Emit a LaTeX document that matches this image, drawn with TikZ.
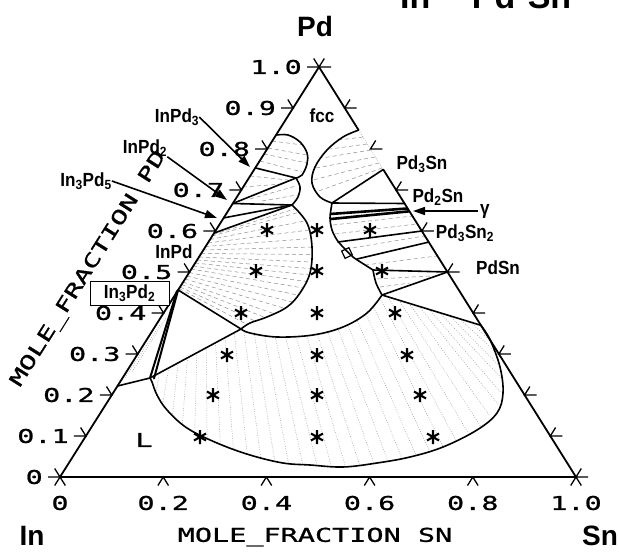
\documentclass[tikz,border=0pt]{standalone}
\usepackage{fontspec}
\setmainfont{Liberation Sans}
\newfontfamily\plotfont[FakeStretch=1.5,FakeBold=1]{DejaVu Sans Mono}
\newfontfamily\lblfont[FakeStretch=0.9]{Liberation Sans Bold}
\usetikzlibrary{arrows.meta,calc}
\begin{document}
\begin{tikzpicture}[x=1pt,y=-1pt,
  triedge/.style={line width=1.8pt},
  bnd/.style={line width=1.6pt,line join=round,line cap=round},
  thk/.style={line width=2.6pt},
  tie/.style={black!45,line width=0.5pt,dash pattern=on 4pt off 3pt},
  dotty/.style={black!40,line width=0.5pt,dash pattern=on 0.8pt off 1.6pt},
  tck/.style={line width=1.3pt},
  lbl/.style={font=\lblfont\fontsize{19}{19}\selectfont,inner sep=0pt},
  axl/.style={font=\plotfont\fontsize{19}{19}\selectfont,inner sep=0pt},
  big/.style={font=\bfseries\fontsize{28}{28}\selectfont,inner sep=0pt},
  arr/.style={-{Triangle[length=12pt,width=8pt]},line width=1.6pt},
  ast/.pic={\draw[line width=2.1pt] (0,-7)--(0,7) (-6,-3.5)--(6,3.5) (-6,3.5)--(6,-3.5);}
]
\useasboundingbox (0,0) rectangle (619,552);

% ---------- key points ----------
\coordinate (In) at (60,477);
\coordinate (Sn) at (576,477);
\coordinate (Pd) at (319,67);
\coordinate (A) at (150,378);
\coordinate (E) at (241,329);
\coordinate (F) at (178.1,290);
\coordinate (D) at (292,205);
\coordinate (K) at (296,178);
\coordinate (G) at (382,295);
\coordinate (I) at (373,270);
\coordinate (J) at (447.5,272);
\coordinate (M) at (332,203);
\coordinate (eL834) at (276.0,135.1);
\coordinate (eL754) at (255.3,167.9);
\coordinate (eL667) at (232.8,203.5);
\coordinate (eL632) at (223.7,217.9);
\coordinate (eL595) at (214.1,233.05);
\coordinate (eL222) at (117.5,386.0);
\coordinate (eR846) at (358.6,130.1);
\coordinate (eR75) at (383.25,169.5);
\coordinate (eR667) at (404.6,203.5);
\coordinate (eR655) at (407.7,208.45);
\coordinate (eR648) at (409.5,211.3);
\coordinate (eR60) at (421.8,231);
\coordinate (eR573) at (428.7,242.1);
\coordinate (eR37) at (480.9,325.3);

% ---------- tie lines (shading) ----------
\foreach \x/\y [count=\n] in {168.7/367.9,187.5/357.8,206.2/347.7,225/337.6,243.9/330.3,264.4/335.2,285.5/336.5,306.7/335.4,327.4/331.2,347.5/324.4,365.8/313.7,379.7/297.8,398.9/300.2,419.2/306.4,439.5/312.6,459.8/318.9}
  {\coordinate (u\n) at (\x,\y);}
\foreach \x/\y [count=\n] in {162.7/403.5,182.4/423.8,207.1/438,233.4/449,260.7/457.6,288.5/463.4,317/465.4,345.5/466.7,373.8/463.4,402/458.5,429.6/451.1,456/440.5,480.9/426.7,499.2/405.8,501.3/377.9,493.9/350.6}
  {\coordinate (l\n) at (\x,\y);}
\coordinate (u0) at (150,378); \coordinate (l0) at (150,378);
\coordinate (u17) at (480.9,325.3); \coordinate (l17) at (480.9,325.3);
\foreach \n in {1,...,16} {\draw[dotty] (u\n) -- (l\n);}
\foreach \n [evaluate=\n as \m using int(\n+1)] in {0,...,16}
  {\draw[dotty] ($(u\n)!.5!(u\m)$) -- ($(l\n)!.5!(l\m)$);}
% InPd lobe
\foreach \x/\y [count=\n] in {212/236,208/243,203/250,199/257,195/263,191/269,187/276,183/282,180/287}
  {\coordinate (s\n) at (\x,\y);}
\foreach \x/\y [count=\n] in {300/212,309/230,312/247,311/262,310/275,303/288,292/302,275/314,255/321}
  {\coordinate (t\n) at (\x,\y);}
\coordinate (s0) at (214.1,233.05); \coordinate (t0) at (292,205);
\coordinate (s10) at (178.1,290); \coordinate (t10) at (241,329);
\foreach \n in {1,...,9} {\draw[tie] (s\n) -- (t\n);}
\foreach \n [evaluate=\n as \m using int(\n+1)] in {0,...,9}
  {\draw[tie] ($(s\n)!.5!(s\m)$) -- ($(t\n)!.5!(t\m)$);}
% fcc + InPd3 lobe
\draw[tie] (272,141)--(303,145) (268,148)--(307,155) (264,154)--(307,163) (260,161)--(302,172);
\draw[tie] (250,176)--(288,180) (243,187)--(282,184);
\draw[tie] (250,199)--(296,186) (262,201)--(297,195);
% fcc + Pd3Sn lobe
\draw[tie] (363,137)--(339,140) (367,144)--(330,149) (371,150)--(322,158)
  (375,157)--(316,168) (379,163)--(313,180) (382,168)--(316,192);
% right side regions
\draw[tie] (333,225)--(413,216) (335,234)--(416,224) (346,249)--(424,236)
  (365,265)--(437,256) (377,279)--(430,276) (380,287)--(410,283);
% In3Pd2 region
\draw[dotty] (125,378)--(160,325) (132,372)--(166,318);

% ---------- triangle ----------
\draw[triedge] (In) -- (Sn) -- (eR75);
\draw[triedge] (eR846) -- (Pd) -- (In);
\draw[dotty] (eR846) -- (eR75);

% ---------- ticks and axis labels ----------
\foreach \i in {0,...,10} {
  \pgfmathsetmacro\px{60+25.9*\i}
  \pgfmathsetmacro\py{477-41*\i}
  \draw[tck] (\px-12,\py) -- (\px,\py) -- ++(-5.3,-8.5);
  \ifnum\i=0 \def\lab{0}\else\ifnum\i=10 \def\lab{1.0}\else\def\lab{0.\i}\fi\fi
  \node[axl,anchor=east] (ly\i) at (\px-17,\py) {\lab};
  \pgfmathsetmacro\qx{576-25.7*\i}
  \draw[tck] (\qx+12,\py) -- (\qx,\py) -- ++(5.3,-8.5);
}
\foreach \i/\lab in {0/0,1/0.2,2/0.4,3/0.6,4/0.8,5/1.0} {
  \pgfmathsetmacro\px{60+103.2*\i}
  \draw[tck] (\px-5.3,485.5) -- (\px,477) -- (\px+5.3,485.5);
  \node[axl] (lx\i) at (\px,503) {\lab};
}
\node[axl] (xtitle) at (315,537) {MOLE\_FRACTION SN};
\node[axl,rotate=57.8] (ytitle) at (89,269) {MOLE\_FRACTION PD};

% ---------- phase boundaries ----------
\draw[bnd] (eL222) -- (A);
\draw[bnd,line width=2pt] (A) -- (177,291);
\draw[bnd,line width=2pt] (154,378.5) -- (F);
\draw[bnd] (A) -- (E);
\draw[bnd] (F) -- (E);
\draw[bnd] plot[smooth,tension=0.6] coordinates {(D) (307,223) (312,247) (310,273) (300,293) (287,307) (267,317) (250,323) (E)};
\draw[bnd] (eL754) -- (K);
\draw[bnd] (eL667) -- (K);
\draw[bnd] (eL667) -- (D);
\draw[bnd] (eL632) -- (D);
\draw[bnd] (eL595) -- (D);
\draw[bnd] plot[smooth,tension=0.6] coordinates {(eL834) (288,135) (300,142) (307,153) (307,164) (302,175) (K)};
\draw[bnd] plot[smooth,tension=0.6] coordinates {(K) (300,187) (298,197) (D)};
\draw[bnd] plot[smooth,tension=0.6] coordinates {(E) (250,333) (277,337) (313,335) (343,327) (367,313) (G)};
\draw[bnd] (G) -- (eR37);
\draw[bnd] (G) -- (J);
\draw[bnd] plot[smooth,tension=0.6] coordinates {(G) (376,283) (I)};
\draw[bnd] (I) -- (J);
\draw[bnd] plot[smooth,tension=0.6] coordinates {(eR37) (490.2,340.1) (500,367) (503,393) (497,413) (477,430) (443,447) (410,457) (377,463) (343,467) (310,465) (283,463) (250,455) (217,443) (187,428) (167,410) (157,395) (152,382) (A)};
% right side
\draw[bnd] plot[smooth,tension=0.6] coordinates {(eR846) (343,137) (327,150) (315,167) (312,183) (320,197) (M)};
\draw[bnd] (M) -- (eR75);
\draw[bnd] (M) -- (eR667);
\draw[bnd] plot[smooth,tension=0.5] coordinates {(M) (330,218) (332,230) (337,240) (343,247) (353,257) (362,263) (I)};
\draw[thk] (330,214) -- (eR655);
\draw[thk] (331,219) -- (eR648);
\draw[bnd] (338,242) -- (eR60);
\draw[bnd] (357,259) -- (eR573);
\draw[line width=1.2pt,rotate around={25:(347,253)}] (343,249) rectangle (351,257);

% ---------- calculation points ----------
\foreach \x/\y in {267/230,317/230,370/230,256/271,317/271,382/271,241/313,317/313,395/313,
  227/355,317/355,407/355,213/395,317/395,420/395,200/437,317/437,433/437}
  {\pic at (\x,\y) {ast};}

% ---------- labels ----------
\node[big] (pdl) at (315,26) {Pd};
\node[big] (inl) at (32,536) {In};
\node[big,anchor=west] (snl) at (582,536) {Sn};
\node[font=\bfseries\fontsize{34}{34}\selectfont,anchor=base west,inner sep=0pt] (title) at (400,8) {In\hspace{32pt} Pd\hspace{3pt} Sn};

\node[lbl] (fcc) at (322,116) {fcc};
\node[lbl] (pd3sn) at (422,164) {Pd\textsubscript{3}Sn};
\node[lbl] (pd2sn) at (438,197) {Pd\textsubscript{2}Sn};
\node[lbl] (pd3sn2) at (465,233) {Pd\textsubscript{3}Sn\textsubscript{2}};
\node[lbl] (pdsn) at (498,268) {PdSn};
\node[lbl] (inpd) at (174,252) {InPd};
\node[axl] (liq) at (144,440) {L};
\node[lbl,draw,line width=0.8pt,fill=white,minimum width=79pt,minimum height=24pt] (in3pd2) at (129.5,293) {In\textsubscript{3}Pd\textsubscript{2}};

\node[lbl] (inpd3) at (177,117) {InPd\textsubscript{3}};
\node[lbl] (inpd2) at (145,148) {InPd\textsubscript{2}};
\node[lbl] (in3pd5) at (86,181) {In\textsubscript{3}Pd\textsubscript{5}};
\node[lbl] (gam) at (485,211) {γ};
\coordinate (t3) at (250,167);
\coordinate (t2) at (227,200);
\coordinate (t5) at (217,218);
\coordinate (tg) at (413,211);
\draw[arr] (inpd3.east) -- (t3);
\draw[arr] (inpd2.south east) -- (t2);
\draw[arr] (in3pd5.east) -- (t5);
\draw[arr,shorten <=2pt] (gam.west) -- (tg);
\end{tikzpicture}
\end{document}
